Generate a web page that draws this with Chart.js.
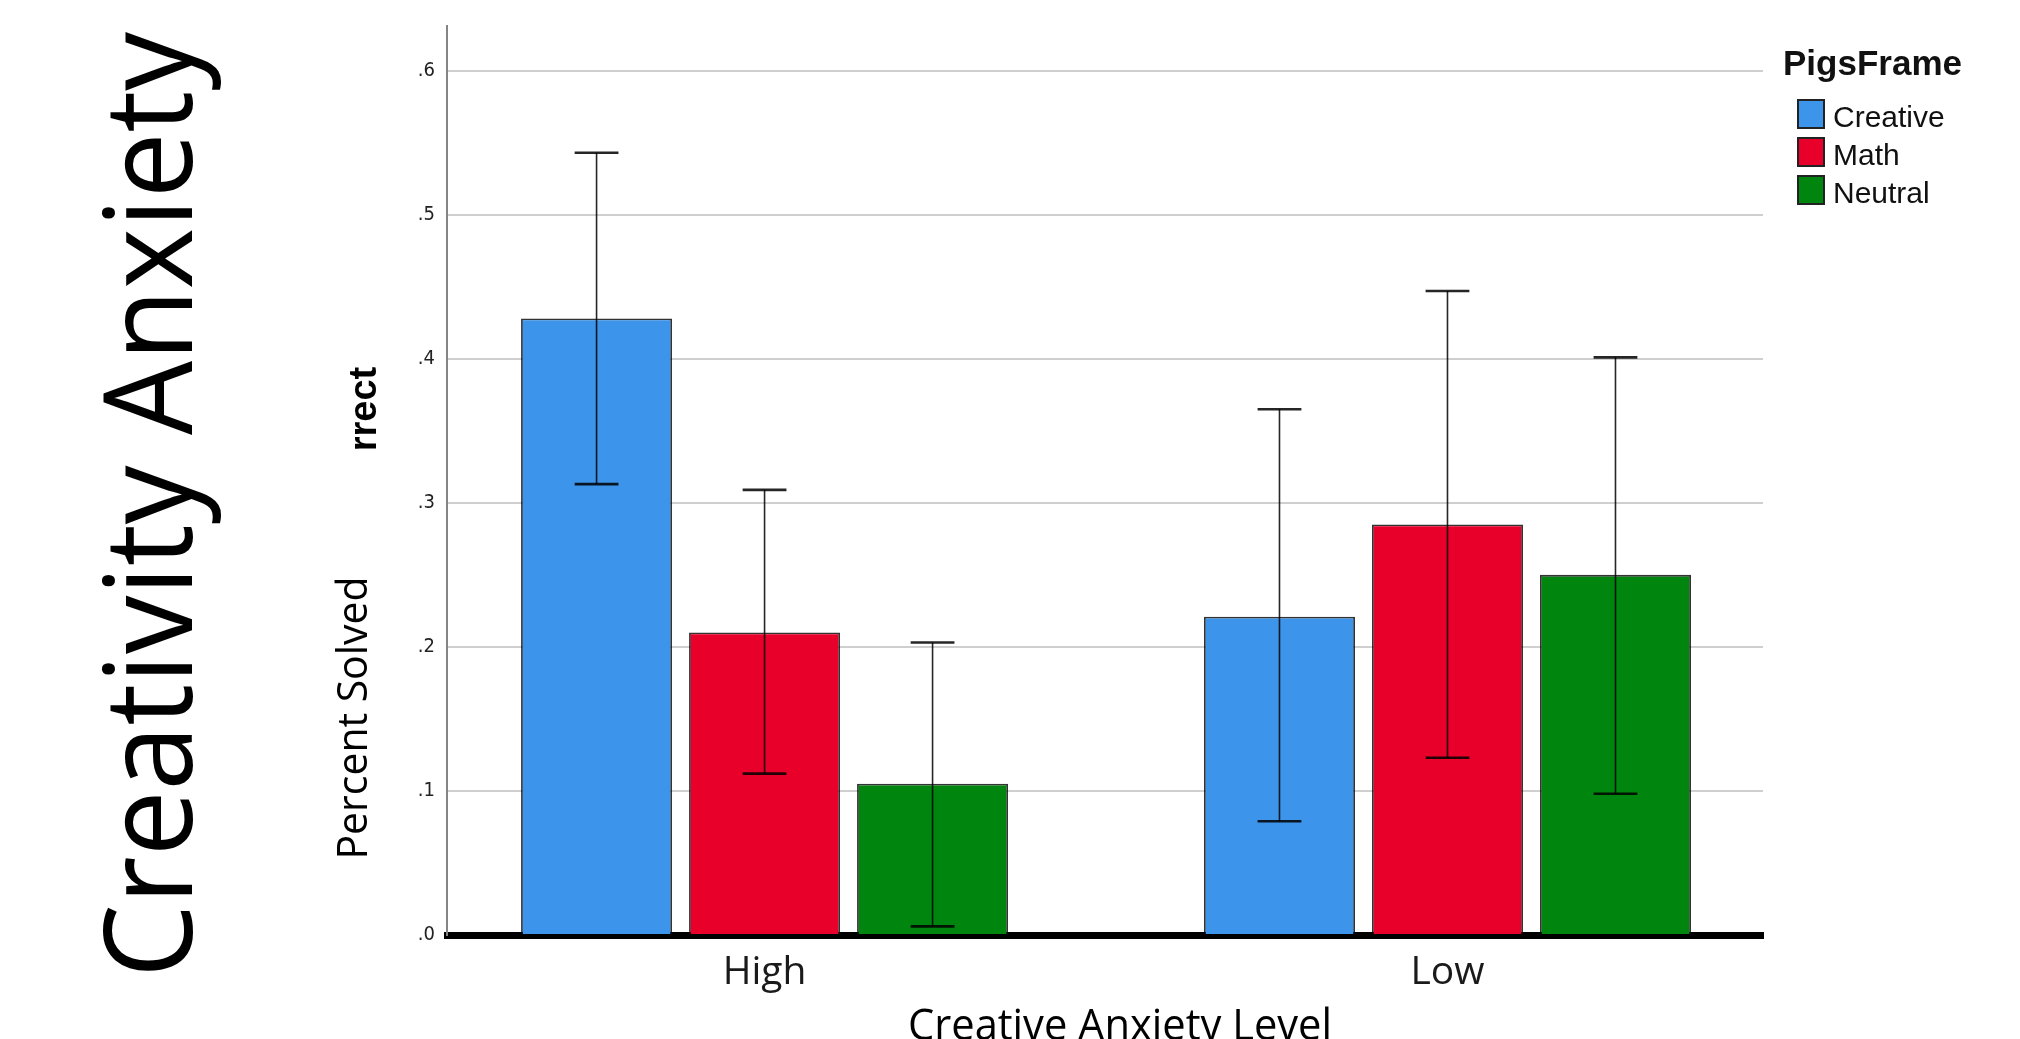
<!DOCTYPE html>
<html>
<head>
<meta charset="utf-8">
<script src="https://cdn.jsdelivr.net/npm/chart.js@4.4.1/dist/chart.umd.min.js"></script>
<style>
  html, body { margin: 0; padding: 0; background: #fff; }
  #wrap { width: 2020px; height: 1039px; position: relative; }
</style>
</head>
<body>
<div id="wrap"><canvas id="solvedChart"></canvas></div>
<script>
// values
const categories = ['High', 'Low'];
const seriesNames = ['Creative', 'Math', 'Neutral'];
const creative = [0.428, 0.221];
const math = [0.210, 0.285];
const neutral = [0.105, 0.250];
const creativeHi = [0.543, 0.365];
const creativeLo = [0.313, 0.079];
const mathHi = [0.309, 0.447];
const mathLo = [0.112, 0.123];
const neutralHi = [0.203, 0.401];
const neutralLo = [0.006, 0.098];
const yTicks = [0, 0.1, 0.2, 0.3, 0.4, 0.5, 0.6];

const legendTitle = 'PigsFrame';
const sideTitle = 'Creativity Anxiety';
const yTitle = 'Percent Solved';
const yTitleStub = 'rrect';
const xTitle = 'Creative Anxiety Level';

const colors = ['#3D94EB', '#E8002B', '#00860E'];

const values = [creative, math, neutral];
const errHi = [creativeHi, mathHi, neutralHi];
const errLo = [creativeLo, mathLo, neutralLo];

// error bars, drawn through the scales
const errorBars = {
    id: 'errorBars',
    afterDatasetsDraw(chart) {
        const ctx = chart.ctx;
        const y = chart.scales.y;
        ctx.save();
        chart.data.datasets.forEach((ds, di) => {
            const meta = chart.getDatasetMeta(di);
            meta.data.forEach((bar, i) => {
                const top = y.getPixelForValue(errHi[di][i]);
                const bot = y.getPixelForValue(errLo[di][i]);
                const half = bar.width * 0.145;
                ctx.strokeStyle = 'rgba(0,0,0,0.85)';
                ctx.lineWidth = 1.6;
                ctx.beginPath();
                ctx.moveTo(bar.x, top);
                ctx.lineTo(bar.x, bot);
                ctx.stroke();
                ctx.lineWidth = 2.6;
                ctx.beginPath();
                ctx.moveTo(bar.x - half, top);
                ctx.lineTo(bar.x + half, top);
                ctx.moveTo(bar.x - half, bot);
                ctx.lineTo(bar.x + half, bot);
                ctx.stroke();
            });
        });
        ctx.restore();
    }
};

// legend block and the slide's overlay texts
const overlay = {
    id: 'overlay',
    afterDraw(chart) {
        const ctx = chart.ctx;
        ctx.save();
        ctx.fillStyle = '#111';
        ctx.textAlign = 'left';
        ctx.textBaseline = 'alphabetic';
        ctx.font = 'bold 35px "Liberation Sans", Arial, sans-serif';
        ctx.fillText(legendTitle, 1783, 75, 184);

        chart.data.datasets.forEach((ds, i) => {
            const top = 99 + i * 38;
            ctx.fillStyle = ds.backgroundColor;
            ctx.fillRect(1797, top, 28, 30);
            ctx.strokeStyle = '#222';
            ctx.lineWidth = 2;
            ctx.strokeRect(1798, top + 1, 26, 28);
            ctx.fillStyle = '#111';
            ctx.font = '30px "Liberation Sans", Arial, sans-serif';
            ctx.fillText(ds.label, 1833, top + 28);
        });

        ctx.fillStyle = '#000';
        ctx.textAlign = 'center';

        ctx.save();
        ctx.translate(192, 505);
        ctx.rotate(-Math.PI / 2);
        ctx.font = '123px "Open Sans", sans-serif';
        ctx.fillText(sideTitle, 0, 0, 946);
        ctx.restore();

        ctx.save();
        ctx.translate(367, 718);
        ctx.rotate(-Math.PI / 2);
        ctx.font = '42px "Open Sans", sans-serif';
        ctx.fillText(yTitle, 0, 0, 283);
        ctx.restore();

        ctx.save();
        ctx.translate(376, 409);
        ctx.rotate(-Math.PI / 2);
        ctx.font = 'bold 38px "Liberation Sans", Arial, sans-serif';
        ctx.fillText(yTitleStub, 0, 0, 86);
        ctx.restore();

        ctx.font = '43px "Open Sans", sans-serif';
        ctx.fillText(xTitle, 1120, 1040, 424);
        ctx.restore();
    }
};

const ctx = document.getElementById('solvedChart').getContext('2d');
new Chart(ctx, {
    type: 'bar',
    data: {
        datasets: seriesNames.map((name, di) => ({
            label: name,
            data: values[di].map((v, i) => ({ x: i, y: v })),
            backgroundColor: colors[di],
            borderColor: 'rgba(0,0,0,0.8)',
            borderWidth: 1.8,
            categoryPercentage: 0.738,
            barPercentage: 0.899
        }))
    },
    options: {
        responsive: true,
        maintainAspectRatio: false,
        animation: false,
        devicePixelRatio: 1,
        layout: { padding: { left: 0, right: 257, top: 26, bottom: 0 } },
        plugins: {
            legend: { display: false },
            tooltip: { enabled: false }
        },
        scales: {
            x: {
                type: 'linear',
                min: -0.465,
                max: 1.462,
                offset: false,
                z: 1,
                afterBuildTicks: scale => { scale.ticks = categories.map((c, i) => ({ value: i })); },
                afterFit: scale => { scale.height = 104; },
                grid: { display: true, offset: false, color: 'rgba(0,0,0,0)', drawTicks: false },
                border: { display: true, color: '#000', width: 7 },
                ticks: {
                    padding: 14,
                    color: '#1a1a1a',
                    font: { family: '"Open Sans", sans-serif', size: 39 },
                    callback: v => categories[v]
                }
            },
            y: {
                min: 0,
                max: 0.631,
                afterBuildTicks: scale => { scale.ticks = yTicks.map(v => ({ value: v })); },
                afterFit: scale => { scale.width = 447; },
                grid: { color: '#cfcfcf', lineWidth: 2, drawTicks: false },
                border: { display: true, color: '#858585', width: 2 },
                ticks: {
                    padding: 12,
                    color: '#222',
                    font: { family: '"Liberation Sans Narrow", "DejaVu Sans Condensed", "Liberation Sans", sans-serif', size: 20 },
                    callback: v => v.toFixed(1).replace(/^0/, '')
                }
            }
        }
    },
    plugins: [errorBars, overlay]
});
</script>
</body>
</html>
